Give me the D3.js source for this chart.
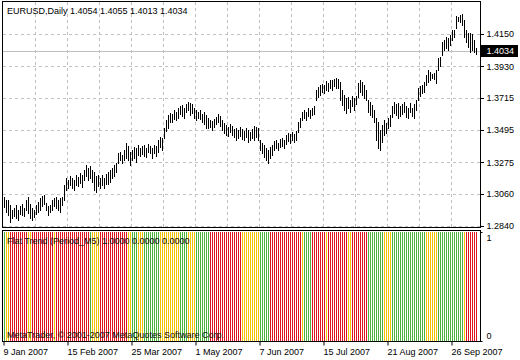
<!DOCTYPE html>
<html><head><meta charset="utf-8">
<script src="https://cdn.jsdelivr.net/npm/d3@7"></script>
<style>html,body{margin:0;padding:0;background:#fff;} svg{display:block;font-family:"Liberation Sans",Arial,sans-serif;}</style>
</head><body><svg id="c" width="520" height="360"></svg>
<script>
const symbolName = "EURUSD,Daily";
const lastOHLC = [1.4054, 1.4055, 1.4013, 1.4034];
const highs = [
1.3038,1.3017,1.3017,1.2983,1.2949,1.2963,1.2983,1.2949,1.2976,1.2990,
1.2963,1.3017,1.3038,1.2990,1.2963,1.2949,1.2983,1.3004,1.3031,1.3045,
1.3052,1.2997,1.2976,1.2983,1.3017,1.3031,1.3038,1.3017,1.3031,1.3038,
1.3120,1.3168,1.3154,1.3181,1.3168,1.3154,1.3188,1.3174,1.3202,1.3188,
1.3222,1.3256,1.3236,1.3249,1.3222,1.3208,1.3181,1.3188,1.3168,1.3188,
1.3168,1.3195,1.3208,1.3222,1.3236,1.3256,1.3270,1.3338,1.3345,1.3324,
1.3359,1.3406,1.3386,1.3345,1.3359,1.3379,1.3372,1.3393,1.3372,1.3386,
1.3393,1.3372,1.3400,1.3386,1.3372,1.3393,1.3386,1.3427,1.3447,1.3440,
1.3509,1.3563,1.3597,1.3611,1.3604,1.3631,1.3618,1.3645,1.3659,1.3666,
1.3645,1.3672,1.3686,1.3679,1.3672,1.3645,1.3631,1.3618,1.3631,1.3604,
1.3618,1.3597,1.3577,1.3563,1.3556,1.3570,1.3584,1.3604,1.3591,1.3563,
1.3543,1.3529,1.3515,1.3536,1.3522,1.3502,1.3509,1.3495,1.3515,1.3502,
1.3488,1.3509,1.3495,1.3481,1.3502,1.3522,1.3515,1.3509,1.3427,1.3406,
1.3393,1.3372,1.3359,1.3379,1.3393,1.3420,1.3427,1.3406,1.3434,1.3440,
1.3427,1.3461,1.3475,1.3468,1.3481,1.3468,1.3488,1.3550,1.3577,1.3618,
1.3631,1.3618,1.3645,1.3631,1.3645,1.3659,1.3768,1.3788,1.3802,1.3809,
1.3802,1.3829,1.3816,1.3836,1.3836,1.3843,1.3850,1.3843,1.3822,1.3768,
1.3734,1.3713,1.3720,1.3700,1.3727,1.3713,1.3727,1.3816,1.3836,1.3822,
1.3802,1.3768,1.3700,1.3686,1.3666,1.3631,1.3577,1.3550,1.3495,1.3529,
1.3563,1.3543,1.3577,1.3597,1.3659,1.3686,1.3672,1.3679,1.3659,1.3672,
1.3686,1.3659,1.3645,1.3679,1.3645,1.3672,1.3700,1.3782,1.3795,1.3802,
1.3822,1.3870,1.3904,1.3891,1.3877,1.3884,1.3904,1.3986,1.3993,1.4095,
1.4109,1.4130,1.4123,1.4143,1.4177,1.4177,1.4273,1.4266,1.4280,1.4287,
1.4246,1.4177,1.4157,1.4157,1.4150,1.4109,1.4055];
const lows = [
1.2970,1.2936,1.2915,1.2867,1.2895,1.2908,1.2895,1.2881,1.2922,1.2915,
1.2908,1.2949,1.2929,1.2895,1.2881,1.2901,1.2922,1.2936,1.2949,1.2976,
1.2990,1.2949,1.2915,1.2936,1.2949,1.2976,1.2963,1.2949,1.2936,1.2983,
1.3017,1.3086,1.3099,1.3120,1.3099,1.3086,1.3120,1.3113,1.3133,1.3106,
1.3154,1.3181,1.3154,1.3168,1.3140,1.3086,1.3072,1.3113,1.3099,1.3120,
1.3099,1.3127,1.3127,1.3140,1.3168,1.3181,1.3208,1.3270,1.3290,1.3270,
1.3290,1.3304,1.3290,1.3256,1.3290,1.3304,1.3277,1.3324,1.3318,1.3331,
1.3318,1.3311,1.3345,1.3338,1.3304,1.3338,1.3318,1.3345,1.3379,1.3359,
1.3440,1.3488,1.3509,1.3550,1.3550,1.3570,1.3563,1.3577,1.3604,1.3591,
1.3577,1.3618,1.3631,1.3597,1.3611,1.3577,1.3563,1.3577,1.3570,1.3550,
1.3536,1.3509,1.3509,1.3515,1.3495,1.3515,1.3536,1.3550,1.3522,1.3495,
1.3475,1.3461,1.3454,1.3481,1.3461,1.3447,1.3427,1.3440,1.3454,1.3434,
1.3427,1.3447,1.3413,1.3427,1.3440,1.3427,1.3447,1.3427,1.3359,1.3338,
1.3311,1.3290,1.3270,1.3304,1.3324,1.3359,1.3372,1.3359,1.3379,1.3386,
1.3372,1.3400,1.3420,1.3406,1.3427,1.3413,1.3427,1.3481,1.3515,1.3563,
1.3577,1.3563,1.3591,1.3577,1.3597,1.3604,1.3700,1.3720,1.3734,1.3754,
1.3747,1.3768,1.3761,1.3782,1.3768,1.3795,1.3782,1.3782,1.3700,1.3666,
1.3631,1.3611,1.3645,1.3618,1.3659,1.3631,1.3672,1.3720,1.3754,1.3734,
1.3713,1.3700,1.3618,1.3597,1.3584,1.3550,1.3427,1.3372,1.3359,1.3413,
1.3461,1.3475,1.3509,1.3522,1.3584,1.3611,1.3597,1.3577,1.3591,1.3604,
1.3618,1.3584,1.3577,1.3618,1.3591,1.3577,1.3631,1.3700,1.3727,1.3747,
1.3754,1.3802,1.3822,1.3836,1.3850,1.3843,1.3816,1.3904,1.3932,1.4007,
1.4041,1.4055,1.4041,1.4075,1.4109,1.4130,1.4191,1.4239,1.4232,1.4211,
1.4130,1.4095,1.4061,1.4027,1.4041,1.4027,1.4013];
const priceTicks = [1.4150, 1.3930, 1.3715, 1.3495, 1.3275, 1.3060, 1.2840];
const dateTickIdx = [0, 32, 64, 96, 128, 160, 192, 224];
const dateLabels = ["9 Jan 2007","15 Feb 2007","25 Mar 2007","1 May 2007","7 Jun 2007","15 Jul 2007","21 Aug 2007","26 Sep 2007"];
// G = trend up, R = trend down, Y = flat
const trendRuns = ["G","YY","RRRRRRRRR","YY","RRRRRRRRRRR","Y","RRRRRRRRRRRRRRRRR","G","YYYY",
 "RRRRRRRRRRRRRR","YY","GGG","YYY","GGGGGGGG","YYYYYYYYYY","GGGG","YYYY","GGGGGGG",
 "RRRRRRRRRRRRRRRR","YYYYYYYYY","GGGGG","RRRRRRRRRRRRRRRR","Y","GGGG","RRRRRRR","Y",
 "RRRRRRRRRR","YY","RRRRRRRR","GGGGGGGG","YYYY","GGGGGGGGGGGGGGGGG","YYYYYY","GGGGGGGGGGGGG","Y","RRRRRR"];
const indicatorName = "Flat Trend (Period_M5)";
const indicatorValues = [1.0000, 0.0000, 0.0000];
const copyright = "MetaTrader, \u00A9 2001-2007 MetaQuotes Software Corp.";

const trend = trendRuns.join("").split("");
const colorOf = {G:"#4cb43c", R:"#e0141e", Y:"#f2c200"};

const svg = d3.select("#c");
const P = {l:2.5, r:480.5, t:1.5, b:227.5};
const Q = {t:230.5, b:341.5};
const x = d3.scaleLinear().domain([0, highs.length - 1]).range([4, 476]);
const y = d3.scaleLinear().domain([1.2840, 1.4150]).range([226, 34]);
const yi = d3.scaleLinear().domain([0, 1]).range([341, 232]);
const px = v => Math.round(v) + 0.5;
const FS = 9;

// horizontal grid
svg.append("g").selectAll("line").data(priceTicks).join("line")
  .attr("x1", P.l).attr("x2", P.r)
  .attr("y1", d => px(y(d))).attr("y2", d => px(y(d)))
  .attr("stroke", "#c0c0c0").attr("stroke-dasharray", "3,3").attr("shape-rendering","crispEdges");
// vertical grid
const gridIdx = d3.range(16, highs.length, 16);
svg.append("g").selectAll("line").data(gridIdx).join("line")
  .attr("x1", d => px(x(d) - 1)).attr("x2", d => px(x(d) - 1))
  .attr("y1", P.t).attr("y2", P.b)
  .attr("stroke", "#c0c0c0").attr("stroke-dasharray", "3,3").attr("shape-rendering","crispEdges");
// current price line
svg.append("line").attr("x1", P.l).attr("x2", P.r)
  .attr("y1", px(y(lastOHLC[3]))).attr("y2", px(y(lastOHLC[3])))
  .attr("stroke", "#c0c0c0").attr("shape-rendering","crispEdges");

// price bars
svg.append("g").selectAll("line").data(highs).join("line")
  .attr("x1", (d, i) => px(x(i))).attr("x2", (d, i) => px(x(i)))
  .attr("y1", d => Math.round(y(d)))
  .attr("y2", (d, i) => Math.round(y(lows[i])) + 1)
  .attr("stroke", "#000").attr("shape-rendering","crispEdges");

// indicator histogram
svg.append("g").selectAll("line").data(trend).join("line")
  .attr("x1", (d, i) => px(x(i))).attr("x2", (d, i) => px(x(i)))
  .attr("y1", yi(1)).attr("y2", yi(0))
  .attr("stroke", d => colorOf[d]).attr("shape-rendering","crispEdges");

// panel frames
[[P.t, P.b], [Q.t, Q.b]].forEach(([t, b]) => {
  svg.append("rect").attr("x", P.l).attr("y", t).attr("width", P.r - P.l).attr("height", b - t)
    .attr("fill", "none").attr("stroke", "#000").attr("shape-rendering","crispEdges");
});

// right price axis
const ay = svg.append("g").attr("transform", `translate(${P.r},0)`)
  .call(d3.axisRight(y).tickValues(priceTicks).tickFormat(d3.format(".4f")).tickSize(3).tickPadding(3));
ay.select(".domain").remove();
ay.selectAll(".tick line").attr("stroke", "#000").attr("shape-rendering","crispEdges");
ay.selectAll("text").attr("font-size", FS).attr("font-family", "Liberation Sans, Arial, sans-serif").attr("fill", "#000");

// current price box
const cy = y(lastOHLC[3]);
svg.append("rect").attr("x", 481).attr("y", Math.round(cy) - 6).attr("width", 37).attr("height", 12).attr("fill", "#000");
svg.append("text").attr("x", 486.5).attr("y", cy).attr("dy", "0.32em")
  .attr("font-size", FS).attr("fill", "#fff").text(d3.format(".4f")(lastOHLC[3]));

// indicator axis labels
const ai = svg.append("g").attr("transform", `translate(${P.r},0)`)
  .call(d3.axisRight(yi).tickValues([0, 1]).tickFormat(d3.format("d")).tickSize(2).tickPadding(4));
ai.select(".domain").remove();
ai.selectAll(".tick line").attr("stroke", "#000");
ai.selectAll("text").attr("font-size", FS).attr("font-family", "Liberation Sans, Arial, sans-serif").attr("fill", "#000")
  .attr("dy", d => d === 1 ? "0.95em" : "-0.3em");

// bottom date axis
const ax = svg.append("g").attr("transform", `translate(-1,${Q.b})`)
  .call(d3.axisBottom(x).tickValues(dateTickIdx).tickFormat((d, i) => dateLabels[i]).tickSize(4).tickPadding(3));
ax.select(".domain").remove();
ax.selectAll(".tick line").attr("stroke", "#000").attr("transform", "translate(0.5,0)");
ax.selectAll("text").attr("font-size", FS).attr("font-family", "Liberation Sans, Arial, sans-serif")
  .attr("fill", "#000").attr("text-anchor", "start").attr("x", 0);

// titles
svg.append("text").attr("x", 7).attr("y", 14).attr("font-size", FS).attr("fill", "#000")
  .text(symbolName + "  " + lastOHLC.map(d3.format(".4f")).join(" "));
svg.append("text").attr("x", 7).attr("y", 244).attr("font-size", FS).attr("fill", "#111")
  .text(indicatorName + " " + indicatorValues.map(d3.format(".4f")).join(" "));
svg.append("text").attr("x", 7).attr("y", 338).attr("font-size", FS).attr("fill", "#111")
  .text(copyright);
</script></body></html>
